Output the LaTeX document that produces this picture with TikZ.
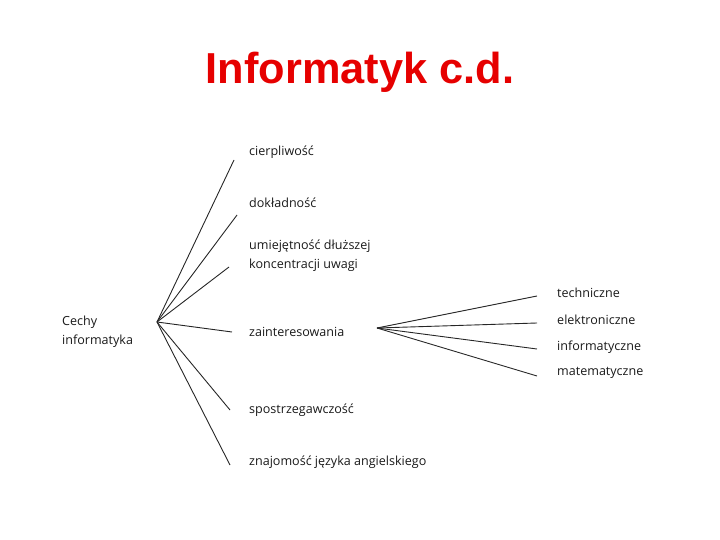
\documentclass[tikz,border=0pt]{standalone}
\usepackage{fontspec}
\setmainfont{Open Sans}
\newfontfamily\titlefont{Liberation Sans}
\definecolor{titlered}{RGB}{230,0,0}
\begin{document}
\begin{tikzpicture}[x=1bp,y=-1bp]
    \tikzstyle{every node}=[anchor=west,inner sep=0pt,align=left,text=black!90,font=\fontsize{12.6}{19}\selectfont];
    \tikzstyle{twig}=[draw,line width=0.9pt,black!85];
    \useasboundingbox (0,0) rectangle (720,540);
    \node[anchor=base,text=titlered,font=\titlefont\bfseries\fontsize{43.5}{50}\selectfont] at (360,84) (title) {Informatyk c.d.};
    \node at (62,332)  (root) {Cechy\\informatyka};
    \node at (249,152) (c1) {cierpliwość};
    \node at (249,203) (c2) {dokładność};
    \node at (249,256) (c3) {umiejętność dłuższej\\koncentracji uwagi};
    \node at (249,332) (c4) {zainteresowania};
    \node at (249,410) (c5) {spostrzegawczość};
    \node at (249,462) (c6) {znajomość języka angielskiego};
    \node at (557,293) (z1) {techniczne};
    \node at (557,320) (z2) {elektroniczne};
    \node at (557,347) (z3) {informatyczne};
    \node at (557,373) (z4) {matematyczne};
    % fan points and line ends
    \coordinate (hub) at (157,322);
    \coordinate (hubz) at (377,328);
    \coordinate (e1) at (234,160);
    \coordinate (e2) at (237,215);
    \coordinate (e3) at (229,267);
    \coordinate (e4) at (232,332);
    \coordinate (e5) at (230,410);
    \coordinate (e6) at (230,465);
    \coordinate (f1) at (537,296);
    \coordinate (f2) at (537,323);
    \coordinate (f3) at (537,349);
    \coordinate (f4) at (537,376);
\foreach \e in {e1,e2,e3,e4,e5,e6}
    \draw[twig] (hub) -- (\e);
\foreach \f in {f1,f2,f3,f4}
    \draw[twig] (hubz) -- (\f);
\end{tikzpicture}
\end{document}
